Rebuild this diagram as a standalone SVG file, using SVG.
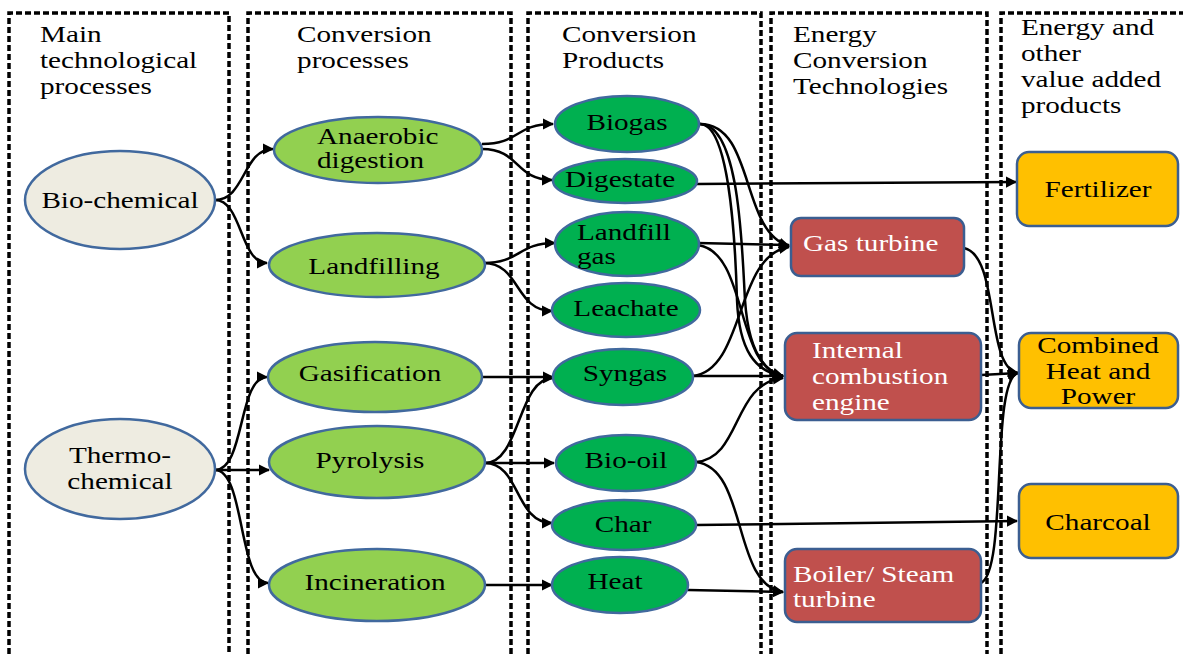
<svg xmlns="http://www.w3.org/2000/svg" width="1183" height="654" viewBox="0 0 1183 654">
<style>
.dash{fill:none;stroke:#000;stroke-width:3.5;stroke-dasharray:6 3}
.t{font-family:"Liberation Serif","Times New Roman",serif;font-size:23px;fill:#000}
.w{fill:#fff}
.m{text-anchor:middle}
.bg{fill:#EEECE1;stroke:#41699E;stroke-width:2.5}
.lg{fill:#92D050;stroke:#41699E;stroke-width:2.5}
.dg{fill:#00B050;stroke:#41699E;stroke-width:2.5}
.rd{fill:#C0504D;stroke:#3B5E91;stroke-width:2.5}
.yl{fill:#FFC000;stroke:#3B5E91;stroke-width:2.5}
.c{fill:none;stroke:#000;stroke-width:2.5;marker-end:url(#ah)}
</style>
<defs>
<marker id="ah" viewBox="0 0 10 10" refX="9" refY="5" markerWidth="4.5" markerHeight="4.5" orient="auto" markerUnits="strokeWidth">
<path d="M0,0 L10,5 L0,10 z" fill="#000"/>
</marker>
</defs>
<rect width="1183" height="654" fill="#fff"/>
<g id="columns">
<path class="dash" d="M9,654 V13 H229 V654"/>
<path class="dash" d="M248,654 V13 H511 V654"/>
<path class="dash" d="M528,654 V13 H761 V654"/>
<path class="dash" d="M771,654 V13 H987 V654"/>
<path class="dash" d="M1001,654 V13 H1183"/>
</g>
<g id="headers">
<text class="t" transform="scale(1.27 1)" x="31.5" y="42">Main</text>
<text class="t" transform="scale(1.27 1)" x="31.5" y="68">technological</text>
<text class="t" transform="scale(1.27 1)" x="31.5" y="94">processes</text>
<text class="t" transform="scale(1.27 1)" x="233.9" y="42">Conversion</text>
<text class="t" transform="scale(1.27 1)" x="233.9" y="68">processes</text>
<text class="t" transform="scale(1.27 1)" x="442.5" y="42">Conversion</text>
<text class="t" transform="scale(1.27 1)" x="442.5" y="68">Products</text>
<text class="t" transform="scale(1.27 1)" x="624.4" y="42">Energy</text>
<text class="t" transform="scale(1.27 1)" x="624.4" y="68">Conversion</text>
<text class="t" transform="scale(1.27 1)" x="624.4" y="94">Technologies</text>
<text class="t" transform="scale(1.27 1)" x="803.9" y="35">Energy and</text>
<text class="t" transform="scale(1.27 1)" x="803.9" y="61">other</text>
<text class="t" transform="scale(1.27 1)" x="803.9" y="87">value added</text>
<text class="t" transform="scale(1.27 1)" x="803.9" y="113">products</text>
</g>
<g id="connectors">
<path class="c" d="M215,200 C245,200 243,149 273,149"/>
<path class="c" d="M215,200 C242,200 240,263 267,263"/>
<path class="c" d="M215,470 C245,470 238,377 267,377"/>
<path class="c" d="M215,470 L269,470"/>
<path class="c" d="M215,470 C245,470 238,583 268,583"/>
<path class="c" d="M482,144 C520,144 515,124 553,124"/>
<path class="c" d="M482,149 C520,149 515,180 552,180"/>
<path class="c" d="M484,263 C520,263 518,243 555,243"/>
<path class="c" d="M484,263 C520,263 515,311 552,311"/>
<path class="c" d="M483,377 L553,377"/>
<path class="c" d="M485,463 C520,463 518,378 553,378"/>
<path class="c" d="M485,463 L554,463"/>
<path class="c" d="M485,463 C520,463 515,523 552,523"/>
<path class="c" d="M485,585 L552,585"/>
<path class="c" d="M697,184 L1016,182"/>
<path class="c" d="M696,525 L1017,521"/>
<path class="c" d="M700,124 C755,124 740,232 789,246"/>
<path class="c" d="M700,124 C740,124 742,250 745,300 C748,345 760,370 783,376"/>
<path class="c" d="M700,124 C728,124 735,230 737,300 C739,350 755,372 783,376"/>
<path class="c" d="M698,243 L789,245"/>
<path class="c" d="M698,245 C748,252 735,368 783,376"/>
<path class="c" d="M693,376 C745,370 735,255 789,247"/>
<path class="c" d="M693,376 L783,376"/>
<path class="c" d="M696,462 C742,458 732,383 783,378"/>
<path class="c" d="M696,462 C748,468 732,585 783,592"/>
<path class="c" d="M688,590 L783,592"/>
<path class="c" d="M964,248 C1000,256 985,368 1018,373"/>
<path class="c" d="M981,375 L1018,373"/>
<path class="c" d="M981,583 C1008,570 990,380 1018,373"/>
</g>
<g id="bio-chemical">
<ellipse class="bg" cx="120" cy="200" rx="95" ry="49"/>
<text class="t m" transform="scale(1.27 1)" x="94.5" y="208">Bio-chemical</text>
</g>
<g id="thermo-chemical">
<ellipse class="bg" cx="120" cy="469" rx="95" ry="50"/>
<text class="t m" transform="scale(1.27 1)" x="94.5" y="463">Thermo-</text>
<text class="t m" transform="scale(1.27 1)" x="94.5" y="489">chemical</text>
</g>
<g id="anaerobic-digestion">
<ellipse class="lg" cx="378" cy="150" rx="104" ry="33"/>
<text class="t" transform="scale(1.27 1)" x="249.6" y="144">Anaerobic</text>
<text class="t" transform="scale(1.27 1)" x="249.6" y="168">digestion</text>
</g>
<g id="landfilling">
<ellipse class="lg" cx="377" cy="265" rx="108" ry="32"/>
<text class="t m" transform="scale(1.27 1)" x="294.5" y="274">Landfilling</text>
</g>
<g id="gasification">
<ellipse class="lg" cx="375" cy="377" rx="107" ry="35"/>
<text class="t m" transform="scale(1.27 1)" x="291.3" y="381">Gasification</text>
</g>
<g id="pyrolysis">
<ellipse class="lg" cx="377" cy="462" rx="108" ry="36"/>
<text class="t m" transform="scale(1.27 1)" x="291.3" y="468">Pyrolysis</text>
</g>
<g id="incineration">
<ellipse class="lg" cx="377" cy="585" rx="108" ry="36"/>
<text class="t m" transform="scale(1.27 1)" x="295.3" y="590">Incineration</text>
</g>
<g id="biogas">
<ellipse class="dg" cx="627" cy="124" rx="72" ry="28"/>
<text class="t m" transform="scale(1.27 1)" x="493.7" y="130">Biogas</text>
</g>
<g id="digestate">
<ellipse class="dg" cx="625" cy="181" rx="72" ry="22"/>
<text class="t m" transform="scale(1.27 1)" x="488.2" y="187">Digestate</text>
</g>
<g id="landfill-gas">
<ellipse class="dg" cx="627" cy="244" rx="72" ry="32"/>
<text class="t" transform="scale(1.27 1)" x="454.3" y="240">Landfill</text>
<text class="t" transform="scale(1.27 1)" x="454.3" y="264">gas</text>
</g>
<g id="leachate">
<ellipse class="dg" cx="626" cy="310" rx="74" ry="27"/>
<text class="t m" transform="scale(1.27 1)" x="492.9" y="316">Leachate</text>
</g>
<g id="syngas">
<ellipse class="dg" cx="623" cy="377" rx="70" ry="28"/>
<text class="t m" transform="scale(1.27 1)" x="492.1" y="381">Syngas</text>
</g>
<g id="bio-oil">
<ellipse class="dg" cx="626" cy="463" rx="70" ry="28"/>
<text class="t m" transform="scale(1.27 1)" x="492.9" y="468">Bio-oil</text>
</g>
<g id="char">
<ellipse class="dg" cx="624" cy="525" rx="72" ry="25"/>
<text class="t m" transform="scale(1.27 1)" x="490.6" y="532">Char</text>
</g>
<g id="heat">
<ellipse class="dg" cx="620" cy="585" rx="68" ry="28"/>
<text class="t m" transform="scale(1.27 1)" x="484.3" y="589">Heat</text>
</g>
<g id="gas-turbine">
<rect class="rd" x="791" y="218" width="173" height="58" rx="10"/>
<text class="t w" transform="scale(1.27 1)" x="632.3" y="251">Gas turbine</text>
</g>
<g id="internal-combustion-engine">
<rect class="rd" x="785" y="333" width="196" height="87" rx="12"/>
<text class="t w" transform="scale(1.27 1)" x="639.4" y="358">Internal</text>
<text class="t w" transform="scale(1.27 1)" x="639.4" y="384">combustion</text>
<text class="t w" transform="scale(1.27 1)" x="639.4" y="410">engine</text>
</g>
<g id="boiler-steam-turbine">
<rect class="rd" x="785" y="549" width="196" height="73" rx="12"/>
<text class="t w" transform="scale(1.27 1)" x="624.4" y="582">Boiler/ Steam</text>
<text class="t w" transform="scale(1.27 1)" x="624.4" y="607">turbine</text>
</g>
<g id="fertilizer">
<rect class="yl" x="1017" y="152" width="161" height="74" rx="12"/>
<text class="t m" transform="scale(1.27 1)" x="864.6" y="197">Fertilizer</text>
</g>
<g id="combined-heat-and-power">
<rect class="yl" x="1019" y="333" width="159" height="75" rx="12"/>
<text class="t m" transform="scale(1.27 1)" x="864.6" y="353">Combined</text>
<text class="t m" transform="scale(1.27 1)" x="864.6" y="379">Heat and</text>
<text class="t m" transform="scale(1.27 1)" x="864.6" y="404">Power</text>
</g>
<g id="charcoal">
<rect class="yl" x="1019" y="484" width="159" height="74" rx="12"/>
<text class="t m" transform="scale(1.27 1)" x="864.6" y="530">Charcoal</text>
</g>
</svg>
